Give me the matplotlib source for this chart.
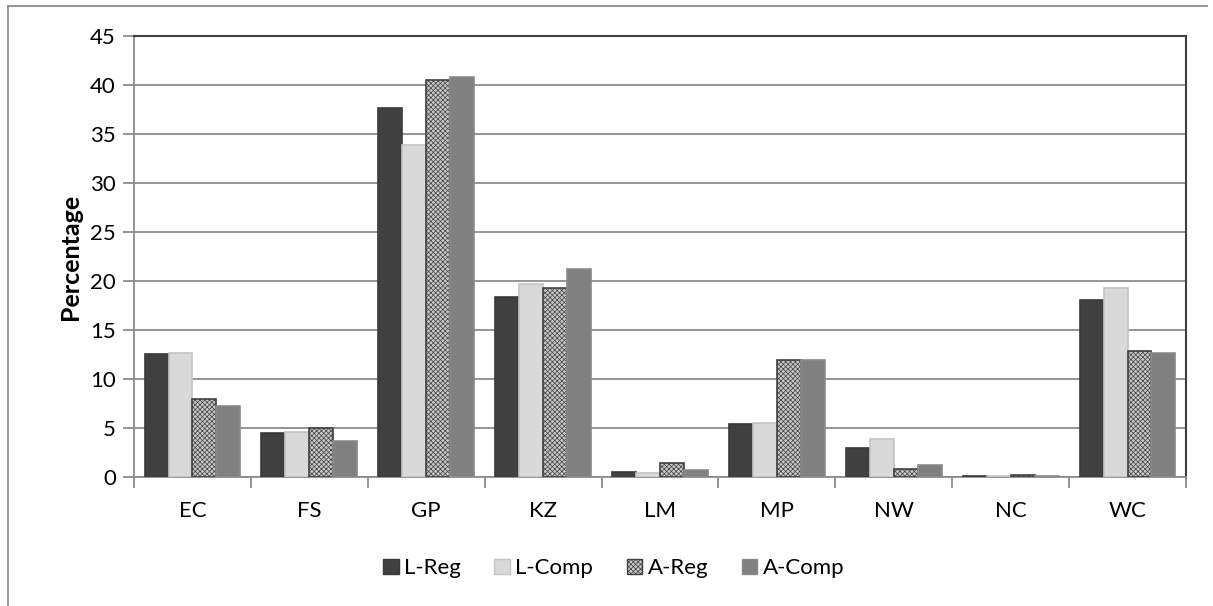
import numpy as np
import matplotlib.pyplot as plt
from matplotlib.lines import Line2D

plt.rcParams['font.family'] = ['Lato', 'DejaVu Sans']
plt.rcParams['hatch.linewidth'] = 0.5

regions = ["EC", "FS", "GP", "KZ", "LM", "MP", "NW", "NC", "WC"]
l_reg = [12.6, 4.5, 37.7, 18.4, 0.5, 5.4, 3.0, 0.1, 18.1]
l_comp = [12.7, 4.6, 33.9, 19.7, 0.4, 5.5, 3.9, 0.05, 19.3]
a_reg = [8.0, 5.0, 40.5, 19.3, 1.4, 11.9, 0.8, 0.2, 12.9]
a_comp = [7.2, 3.7, 40.8, 21.2, 0.7, 11.9, 1.2, 0.15, 12.7]
series_names = ["L-Reg", "L-Comp", "A-Reg", "A-Comp"]

fig = plt.figure(figsize=(12.13, 6.06), dpi=100)
ax = fig.add_axes([0.1105, 0.2129, 0.8672, 0.7277])

x = np.arange(len(regions))
w = 0.205
offsets = (np.arange(4) - 1.5) * w

styles = [
    dict(color="#404040", edgecolor="#3a3a3a"),
    dict(color="#d9d9d9", edgecolor="#c4c4c4"),
    dict(facecolor="#c8c8c8", edgecolor="#404040", hatch="xxxxxxx"),
    dict(color="#808080", edgecolor="#8a8a8a"),
]
for vals, off, st in zip([l_reg, l_comp, a_reg, a_comp], offsets, styles):
    ax.bar(x + off, vals, w, linewidth=1.2, zorder=3, **st)

ax.set_xlim(-0.5, len(regions) - 0.5)
ax.set_ylim(0, 45)
ax.set_yticks(np.arange(0, 46, 5))
ax.yaxis.grid(True, color="#8c8c8c", linewidth=1.3, zorder=0)
ax.set_axisbelow(True)

ax.set_xticks(x)
ax.set_xticklabels(regions)
ax.set_xticks(np.arange(-0.5, len(regions)), minor=True)
ax.tick_params(axis="x", which="major", length=0, pad=17, labelsize=16)
ax.tick_params(axis="x", which="minor", length=8, width=1.3, color="#8c8c8c")
ax.tick_params(axis="y", length=8, width=1.3, color="#8c8c8c", pad=5, labelsize=16)

for side in ["left", "bottom"]:
    ax.spines[side].set_color("#8c8c8c")
    ax.spines[side].set_linewidth(1.3)
for side in ["top", "right"]:
    ax.spines[side].set_color("#404040")
    ax.spines[side].set_linewidth(1.5)

ax.set_ylabel("Percentage", fontsize=18, fontweight="bold", labelpad=6)

handles = [
    plt.Rectangle((0, 0), 1, 1, facecolor="#404040", edgecolor="#3a3a3a"),
    plt.Rectangle((0, 0), 1, 1, facecolor="#d9d9d9", edgecolor="#c4c4c4"),
    plt.Rectangle((0, 0), 1, 1, facecolor="#c8c8c8", edgecolor="#404040", hatch="xxxxxxx"),
    plt.Rectangle((0, 0), 1, 1, facecolor="#808080", edgecolor="#8a8a8a"),
]
fig.legend(handles, series_names, loc="center", bbox_to_anchor=(0.506, 0.062),
           ncol=4, frameon=False, fontsize=16, handlelength=0.7, handleheight=0.7,
           handletextpad=0.25, columnspacing=1.5)

# chart area border (top and left edges)
fig.add_artist(Line2D([0.0066, 0.995], [0.9901, 0.9901], color="#8c8c8c", linewidth=1.3))
fig.add_artist(Line2D([0.0066, 0.0066], [0.0, 0.9901], color="#8c8c8c", linewidth=1.3))

fig.savefig("out.png", dpi=100)
